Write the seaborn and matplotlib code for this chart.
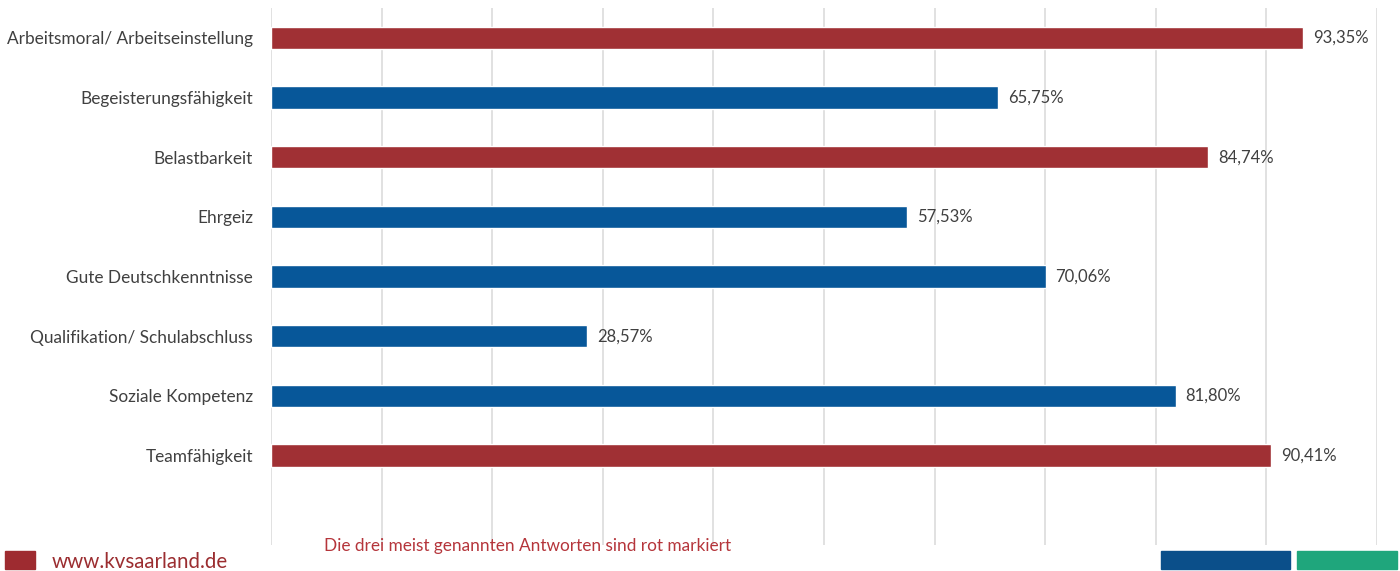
import matplotlib
matplotlib.use("Agg")
import matplotlib.pyplot as plt
import matplotlib.patches as mpatches
import numpy as np
import pandas as pd
import seaborn as sns

# Survey answers and share of mentions (in %)
categories = [
    "Arbeitsmoral/ Arbeitseinstellung",
    "Begeisterungsfähigkeit",
    "Belastbarkeit",
    "Ehrgeiz",
    "Gute Deutschkenntnisse",
    "Qualifikation/ Schulabschluss",
    "Soziale Kompetenz",
    "Teamfähigkeit",
]
values = [93.35, 65.75, 84.74, 57.53, 70.06, 28.57, 81.80, 90.41]
top_three = ["Arbeitsmoral/ Arbeitseinstellung", "Belastbarkeit", "Teamfähigkeit"]

RED = "#A03034"
BLUE = "#075799"
GREEN = "#1FA67C"
TEXT = "#404040"
GRID = "#D9D9D9"

df = pd.DataFrame({
    "Antwort": categories,
    "Anteil": values,
    "Gruppe": ["top" if c in top_three else "rest" for c in categories],
})

sns.set_theme(style="white")
plt.rcParams["font.family"] = ["Lato", "DejaVu Sans"]

fig = plt.figure(figsize=(14, 5.71), dpi=100)
W, H = 1400, 571
ax = fig.add_axes([271 / W, 26 / H, (1377 - 271) / W, (545 - 8) / H])

sns.barplot(
    data=df, x="Anteil", y="Antwort", hue="Gruppe",
    palette={"top": RED, "rest": BLUE}, dodge=False, legend=False,
    width=0.37, orient="h", ax=ax, saturation=1, zorder=3,
)

ax.set_xlim(0, 100)
ax.set_ylim(8.5, -0.5)
ax.set_xticks(np.arange(0, 101, 10))
ax.set_xticklabels([])
ax.grid(axis="x", color=GRID, linewidth=1.1, zorder=0)
ax.grid(axis="y", visible=False)
for s in ax.spines.values():
    s.set_visible(False)
ax.tick_params(axis="both", length=0)
ax.tick_params(axis="y", pad=13, labelsize=12.4, labelcolor=TEXT)
ax.set_xlabel("")
ax.set_ylabel("")

# value labels next to each bar
for i, v in enumerate(values):
    ax.annotate(
        f"{v:.2f}%".replace(".", ","), xy=(v, i), xytext=(7, 0),
        textcoords="offset points", va="center", ha="left",
        fontsize=12, color=TEXT,
    )

# footer
fig.text(324 / W, 1 - 546 / H, "Die drei meist genannten Antworten sind rot markiert",
         color="#B5353B", fontsize=12.4, va="center", ha="left")
fig.patches.append(mpatches.Rectangle((5 / W, 2 / H), 30 / W, 18 / H,
                                      transform=fig.transFigure, color="#9E2B30"))
fig.text(52 / W, 1 - 562 / H, "www.kvsaarland.de", color="#9B2D30",
         fontsize=14.8, va="center", ha="left")
fig.patches.append(mpatches.Rectangle((1161 / W, 2 / H), 129 / W, 18 / H,
                                      transform=fig.transFigure, color="#0B4F8A"))
fig.patches.append(mpatches.Rectangle((1297 / W, 2 / H), 100 / W, 18 / H,
                                      transform=fig.transFigure, color=GREEN))

fig.savefig("out.png", dpi=100, facecolor="white")
